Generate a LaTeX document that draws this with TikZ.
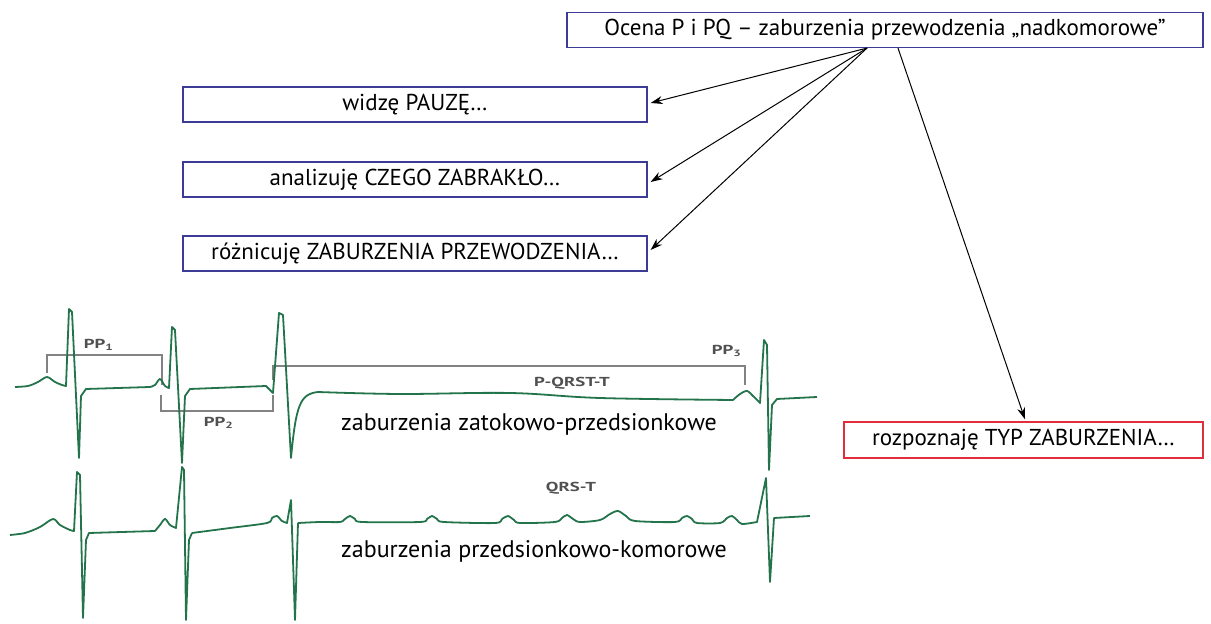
\documentclass[tikz,border=0pt]{standalone}
\usepackage{fontspec}
\setmainfont{PT Sans}
\usetikzlibrary{arrows.meta}
\definecolor{boxblue}{RGB}{60,60,150}
\definecolor{boxred}{RGB}{225,45,60}
\definecolor{ecg}{RGB}{35,115,75}
\definecolor{brk}{RGB}{130,130,130}
\definecolor{lbl}{RGB}{80,80,80}
\tikzset{
  stepbox/.style={draw=boxblue, line width=0.6pt, fill=white, minimum height=17.5pt, inner sep=0pt, font=\fontsize{11.5}{13}\selectfont},
  redbox/.style={draw=boxred, line width=0.6pt, fill=white, minimum height=18pt, inner sep=0pt, font=\fontsize{11.5}{13}\selectfont},
  conn/.style={-{Stealth[length=6pt,width=4pt]}, line width=0.5pt, black},
  trace/.style={draw=ecg, line width=0.9pt, line join=round},
  bracket/.style={draw=brk, line width=0.7pt},
  small/.style={text=lbl, font=\fontsize{6.5}{7}\selectfont\bfseries, inner sep=0pt, xscale=1.45, transform shape},
  biglabel/.style={font=\fontsize{12}{14}\selectfont, inner sep=0pt}
}
\begin{document}
\begin{tikzpicture}[x=0.5pt,y=-0.5pt]
\useasboundingbox (0,0) rectangle (1211,624);
% boxes
\node[stepbox, minimum width=318pt] (top) at (885,30) {Ocena P i PQ – zaburzenia przewodzenia „nadkomorowe”};
\node[stepbox, minimum width=232pt] (b1) at (415,104.5) {widzę PAUZĘ…};
\node[stepbox, minimum width=232pt] (b2) at (415,179.5) {analizuję CZEGO ZABRAKŁO…};
\node[stepbox, minimum width=232pt] (b3) at (415,253.5) {różnicuję ZABURZENIA PRZEWODZENIA…};
\node[redbox, minimum width=179.5pt] (b4) at (1023.5,440) {rozpoznaję TYP ZABURZENIA…};
\coordinate (hub) at ([xshift=-9pt]top.south);
\coordinate (hub2) at ([xshift=6.5pt]top.south);
\draw[conn] (hub) -- ([xshift=1.5pt,yshift=0.75pt]b1.east);
\draw[conn] (hub) -- ([xshift=1.5pt,yshift=-1.25pt]b2.east);
\draw[conn] (hub) -- ([xshift=1.5pt,yshift=1.75pt]b3.east);
\draw[conn] (hub2) -- ([xshift=0.75pt,yshift=1pt]b4.north);
% brackets
\draw[bracket] (47,373) -- (47,355) -- (162,355) -- (162,385);
\draw[bracket] (161,395) -- (161,411) -- (273,411) -- (273,395);
\draw[bracket] (273,380) -- (273,366) -- (745,366) -- (745,385);
\node[small] (pp1) at (99,345) {PP\textsubscript{1}};
\node[small] (pp2) at (219,423) {PP\textsubscript{2}};
\node[small] (pp3) at (727,351) {PP\textsubscript{3}};
\node[small] (pq) at (572,383) {P-QRST-T};
\node[small] (qt) at (571,488) {QRS-T};
% top trace
\draw[trace] plot[smooth, tension=0.5] coordinates {(15,387) (28,386) (38,382) (47,377) (55,382) (62,385) (66,386)}
  -- (69,309) -- (72,312) -- (79,458) -- (81,396) -- (86,389)
  -- (150,387) plot[smooth, tension=0.5] coordinates {(150,387) (155,385) (160,379) (165,386) (169,388)}
  -- (172,327) -- (175,330) -- (182,463) -- (185,396) -- (190,389)
  -- (266,386) -- (273,393) -- (279,313) -- (283,315) -- (291,458)
  .. controls (296,405) and (300,394) .. (318,392)
  plot[smooth, tension=0.6] coordinates {(318,392) (400,394) (510,393) (600,398) (733,400)}
  plot[smooth, tension=0.5] coordinates {(733,400) (740,394) (747,391) (753,396) (760,403)}
  -- (764,340) -- (767,345) -- (769,470) -- (772,405) -- (777,399) -- (817,397);
% bottom trace
\draw[trace] plot[smooth, tension=0.5] coordinates {(10,535) (25,533) (40,527) (53,519) (60,525) (70,530) (74,531)}
  -- (77,472) -- (80,475) -- (83,618) -- (86,540) -- (89,533)
  -- (155,531) plot[smooth, tension=0.5] coordinates {(155,531) (160,525) (165,519) (170,525) (176,528)}
  -- (182,467) -- (184,470) -- (186,620) -- (189,540) -- (192,533)
  plot[smooth, tension=0.5] coordinates {(192,533) (230,528) (267,523) (272,518) (277,516) (282,521) (287,523)}
  -- (291,500) -- (295,620) -- (298,523)
  plot[smooth, tension=0.5] coordinates {(298,523) (320,522) (340,522) (345,519) (350,516) (355,519) (362,522)
    (420,522) (427,519) (432,516) (437,519) (444,522)
    (495,523) (502,519) (508,516) (514,520) (520,523)
    (555,522) (562,518) (567,515) (573,519) (580,522)
    (600,520) (610,514) (618,511) (626,516) (635,521)
    (675,522) (682,518) (687,516) (692,519) (697,523)
    (720,523) (727,518) (732,516) (737,520) (742,524) (757,522)}
  -- (766,478) -- (770,582) -- (774,518) -- (810,516);
% labels
\node[biglabel] (l1) at (529,424) {zaburzenia zatokowo-przedsionkowe};
\node[biglabel] (l2) at (534,551) {zaburzenia przedsionkowo-komorowe};
\end{tikzpicture}
\end{document}
